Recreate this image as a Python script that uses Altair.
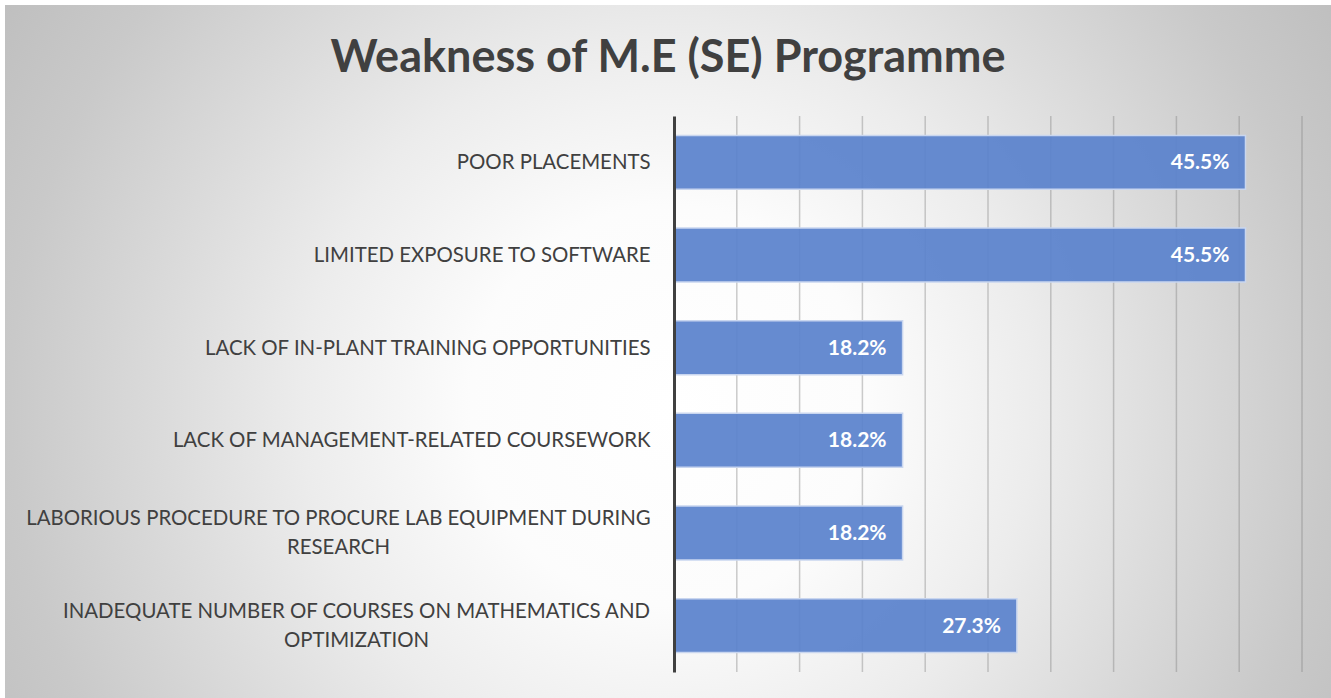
import altair as alt
import pandas as pd

# ---- data ----
categories = [
    "POOR PLACEMENTS",
    "LIMITED EXPOSURE TO SOFTWARE",
    "LACK OF IN-PLANT TRAINING OPPORTUNITIES",
    "LACK OF MANAGEMENT-RELATED COURSEWORK",
    "LABORIOUS PROCEDURE TO PROCURE LAB EQUIPMENT DURING|RESEARCH",
    "INADEQUATE NUMBER OF COURSES ON MATHEMATICS AND|OPTIMIZATION",
]
values = [0.455, 0.455, 0.182, 0.182, 0.182, 0.273]
grid_ticks = [0.05, 0.10, 0.15, 0.20, 0.25, 0.30, 0.35, 0.40, 0.45, 0.50]
title_text = "Weakness of M.E (SE) Programme"

FONT = "Lato"
TEXT_COLOR = "#404040"
LABEL_SIZE = 20.4

df = pd.DataFrame({"category": categories, "value": values})
grid_df = pd.DataFrame({"tick": grid_ticks})
one = pd.DataFrame({"k": [0]})

PLOT_W, PLOT_H = 628, 556
PAD = {"left": 674, "top": 116, "right": 29, "bottom": 26}

x_scale = alt.Scale(domain=[0, 0.5], nice=False, zero=True)
y_scale = alt.Scale(domain=categories, paddingInner=0.418, paddingOuter=0.21)

# background radial gradient (whole canvas)
bg_gradient = {
    "gradient": "radial",
    "x1": 0.5015, "y1": 0.541, "r1": 0,
    "x2": 0.5015, "y2": 0.541, "r2": 0.603,
    "stops": [
        {"offset": 0.0, "color": "#ffffff"},
        {"offset": 0.25, "color": "#fcfcfc"},
        {"offset": 0.46, "color": "#ececec"},
        {"offset": 0.625, "color": "#dcdcdc"},
        {"offset": 0.825, "color": "#c9c9c9"},
        {"offset": 1.0, "color": "#bdbdbd"},
    ],
}

background = alt.Chart(one).mark_rect(fill=bg_gradient, strokeWidth=0).encode(
    x=alt.value(5 - PAD["left"]),
    x2=alt.value(PLOT_W + PAD["right"]),
    y=alt.value(5 - PAD["top"]),
    y2=alt.value(PLOT_H + PAD["bottom"]),
)

grid = alt.Chart(grid_df).mark_rule(color="#7f7f7f", opacity=0.4, strokeWidth=1.5).encode(
    x=alt.X("tick:Q", scale=x_scale, axis=None),
)

multi_test = "indexof(datum.value, '|') >= 0"
label_align = {"condition": {"test": multi_test, "value": "center"}, "value": "right"}
label_offset = {"condition": {"test": multi_test, "value": -13.5}, "value": 1}
label_padding = {
    "condition": [
        {"test": "indexof(datum.value, 'LABORIOUS') >= 0", "value": 336},
        {"test": "indexof(datum.value, 'INADEQUATE') >= 0", "value": 318},
    ],
    "value": 24,
}

bars = alt.Chart(df).mark_bar(
    color="#5a82cc", fillOpacity=0.93, stroke="#c9d6ef", strokeWidth=1.5
).encode(
    x=alt.X("value:Q", scale=x_scale, axis=None),
    y=alt.Y(
        "category:N",
        sort=categories,
        scale=y_scale,
        title=None,
        axis=alt.Axis(
            labelExpr="split(datum.label, '|')",
            labelFont=FONT,
            labelFontSize=LABEL_SIZE,
            labelColor=TEXT_COLOR,
            labelLineHeight=29,
            labelLimit=700,
            labelAlign=label_align,
            labelOffset=label_offset,
            labelPadding=label_padding,
            ticks=False,
            domainColor=TEXT_COLOR,
            domainWidth=3,
            grid=False,
            zindex=1,
        ),
    ),
)

labels = alt.Chart(df).mark_text(
    align="right", baseline="middle", dx=-16, dy=1, color="white",
    font=FONT, fontWeight="bold", fontSize=21,
).encode(
    x=alt.X("value:Q", scale=x_scale, axis=None),
    y=alt.Y("category:N", sort=categories, scale=y_scale),
    text=alt.Text("value:Q", format=".1%"),
)

title = alt.Chart(one).mark_text(
    align="center", baseline="alphabetic", font=FONT, fontWeight="bold",
    fontSize=45, color=TEXT_COLOR, text=title_text,
).encode(
    x=alt.value(668 - PAD["left"]),
    y=alt.value(72 - PAD["top"]),
)

chart = alt.layer(background, grid, bars, labels, title).properties(
    width=PLOT_W,
    height=PLOT_H,
    autosize=alt.AutoSizeParams(type="none"),
    padding=PAD,
    background="white",
).configure_view(stroke=None)

chart.save("out.html", embed_options={"renderer": "svg", "actions": False})
